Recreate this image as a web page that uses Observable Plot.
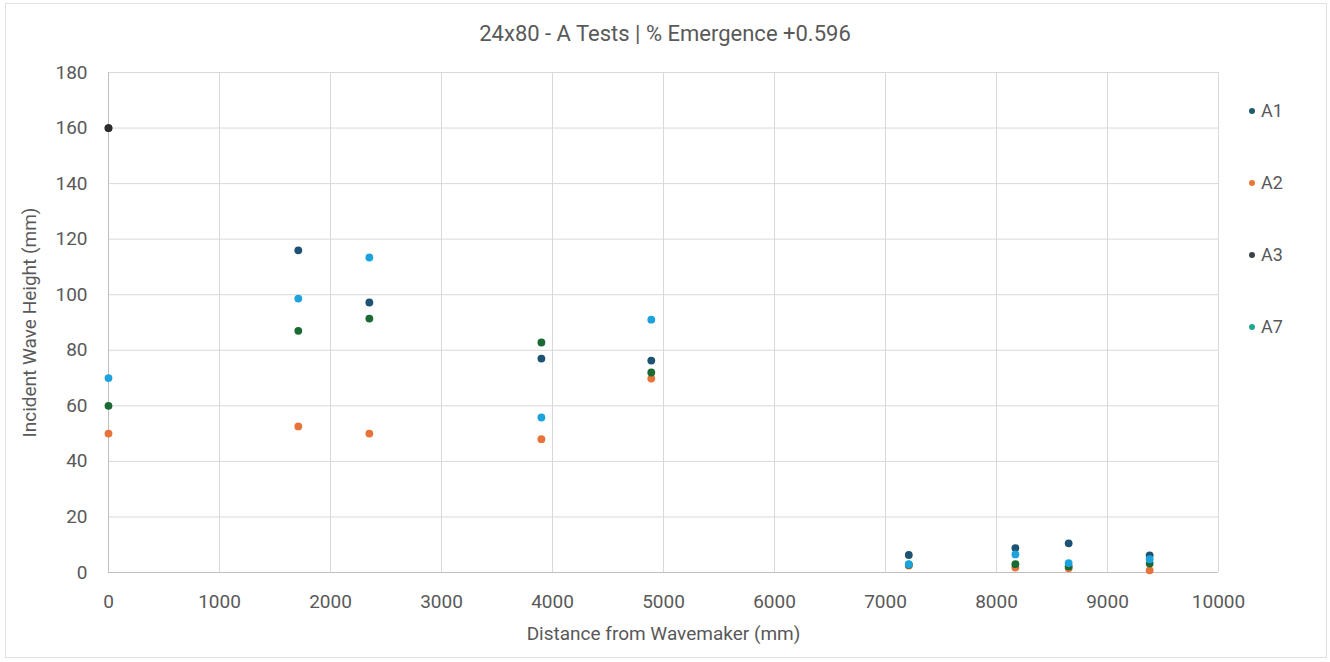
<!DOCTYPE html>
<html>
<head>
<meta charset="utf-8">
<script src="https://cdn.jsdelivr.net/npm/d3@7"></script>
<script src="https://cdn.jsdelivr.net/npm/@observablehq/plot@0.6"></script>
<style>
  html, body { margin: 0; padding: 0; background: #ffffff; }
  #chart { position: relative; width: 1330px; height: 662px; font-family: Roboto, "Liberation Sans", sans-serif; color: #595959; overflow: hidden; }
  #frame { position: absolute; left: 5px; top: 3px; width: 1322px; height: 655px; border: 1px solid #e2e2e2; box-sizing: border-box; pointer-events: none; }
  #title { height: 33px; padding-top: 23px; font-size: 22px; line-height: 22px; text-align: center; }
  .leg { position: absolute; left: 1249px; font-size: 18px; line-height: 22px; white-space: nowrap; }
  .leg span.sw { display: inline-block; width: 6px; height: 6px; border-radius: 50%; margin-right: 6px; vertical-align: middle; position: relative; top: -1px; }
</style>
</head>
<body>
<div id="chart">
  <div id="frame"></div>
  <div id="title"></div>
  <div id="plot"></div>
</div>
<script>
// ---- data ----
const titleText = "24x80 - A Tests | % Emergence +0.596";
const xLabel = "Distance from Wavemaker (mm)";
const yLabel = "Incident Wave Height (mm)";

const seriesNames = ["A1", "A2", "A3", "A7"];
const distances = [0, 1710, 2350, 3900, 4890, 7210, 8170, 8650, 9380];
const a1 = [160, 116, 97.2, 77, 76.3, 6.3, 8.8, 10.5, 6.2];
const a2 = [50, 52.6, 50, 48, 69.8, 2.5, 1.8, 1.5, 0.8];
const a3 = [60, 87, 91.4, 82.8, 72, 2.8, 3.0, 2.2, 3.2];
const a7 = [70, 98.6, 113.4, 55.8, 91, 3.0, 6.5, 3.4, 4.8];

const xTicks = [0, 1000, 2000, 3000, 4000, 5000, 6000, 7000, 8000, 9000, 10000];
const yTicks = [0, 20, 40, 60, 80, 100, 120, 140, 160, 180];

// ---- styles ----
const pointColors = ["#1d5272", "#e8733a", "#1b6a34", "#1ca3de"];
const legendColors = ["#1d5c6b", "#e9763a", "#3c4247", "#1fa88f"];

const valuesBySeries = [a1, a2, a3, a7];
const rows = [];
seriesNames.forEach((s, k) => {
  distances.forEach((d, i) => rows.push({series: s, x: d, y: valuesBySeries[k][i]}));
});

document.getElementById("title").textContent = titleText;

const plot = Plot.plot({
  width: 1330,
  height: 606,
  marginTop: 16,
  marginBottom: 90,
  marginLeft: 108,
  marginRight: 112,
  style: { fontFamily: "Roboto, 'Liberation Sans', sans-serif", fontSize: "19px", color: "#595959", background: "transparent", overflow: "visible" },
  x: { domain: [0, 10000] },
  y: { domain: [0, 180] },
  color: { domain: seriesNames, range: pointColors },
  marks: [
    Plot.gridY(yTicks.filter(v => v > 0), { stroke: "#d9d9d9", strokeOpacity: 1 }),
    Plot.gridX(xTicks.filter(v => v > 0), { stroke: "#d9d9d9", strokeOpacity: 1 }),
    Plot.ruleY([0], { stroke: "#bfbfbf" }),
    Plot.ruleX([0], { stroke: "#bfbfbf" }),
    Plot.axisX(xTicks, { tickSize: 0, tickPadding: 22, label: null, fontSize: 19, tickFormat: d => String(d) }),
    Plot.axisY(yTicks, { tickSize: 0, tickPadding: 21, label: null, fontSize: 19, tickFormat: d => String(d) }),
    Plot.text([xLabel], { text: d => d, frameAnchor: "bottom", textAnchor: "middle", dy: 67, fontSize: 19, fill: "#595959" }),
    Plot.text([yLabel], { text: d => d, frameAnchor: "left", textAnchor: "middle", rotate: -90, dx: -79, fontSize: 19, fill: "#595959" }),
    Plot.dot(rows, { x: "x", y: "y", fill: "series", r: 3.9 }),
    Plot.dot(rows, { filter: d => d.series === "A1" && d.x === 0, x: "x", y: "y", fill: "#2b2b2b", r: 3.9 })
  ]
});
document.getElementById("plot").appendChild(plot);

// legend
const legendTops = [100, 172, 244, 316];
const chart = document.getElementById("chart");
seriesNames.forEach((s, i) => {
  const el = document.createElement("div");
  el.className = "leg";
  el.style.top = legendTops[i] + "px";
  const sw = document.createElement("span");
  sw.className = "sw";
  sw.style.background = legendColors[i];
  el.appendChild(sw);
  el.appendChild(document.createTextNode(s));
  chart.appendChild(el);
});
</script>
</body>
</html>
